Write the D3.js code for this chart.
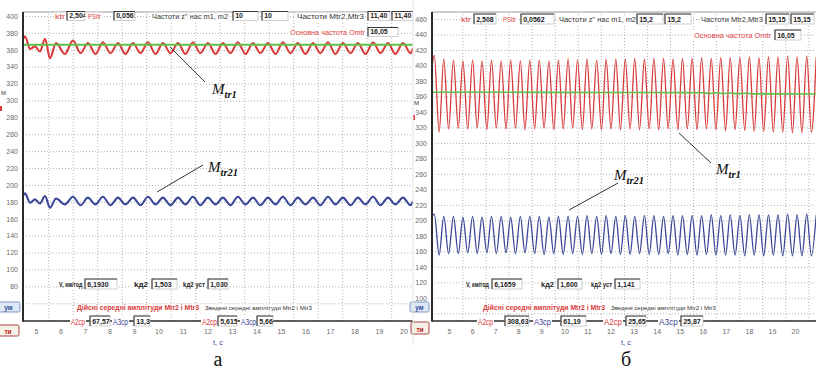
<!DOCTYPE html>
<html>
<head>
<meta charset="utf-8">
<script src="https://cdn.jsdelivr.net/npm/d3@7"></script>
<style>
body { margin: 0; background: #fff; }
svg { display: block; font-family: "Liberation Sans", Arial, sans-serif; }
</style>
</head>
<body>
<svg id="chart" width="816" height="371"></svg>
<script>
/* Two oscilloscope-like screens of Mtr1 / Mtr21, cases a and б */

var time_ticks = [5, 6, 7, 8, 9, 10, 11, 12, 13, 14, 15, 16, 17, 18, 19, 20];
var left_value_ticks = [80, 100, 120, 140, 160, 180, 200, 220, 240, 260, 280, 300, 320, 340, 360, 380, 400];
var left_grid_ticks = [60].concat(left_value_ticks);
var right_value_ticks = [100, 120, 140, 160, 180, 200, 220, 240, 260, 280, 300, 320, 340, 360, 380, 400, 420, 440, 460];
var right_grid_ticks = [80].concat(right_value_ticks);

// case a: times of peaks / troughs, s
var left_time = [4.47, 4.55, 4.76, 4.96, 5.16, 5.37, 5.57, 5.82, 6.18, 6.51,
	6.82, 7.12, 7.43, 7.73, 8.04, 8.35, 8.65, 8.96, 9.27, 9.57,
	9.88, 10.18, 10.49, 10.80, 11.10, 11.41, 11.71, 12.02, 12.33, 12.63,
	12.94, 13.24, 13.55, 13.86, 14.16, 14.47, 14.78, 15.08, 15.39, 15.69,
	16.00, 16.31, 16.61, 16.92, 17.22, 17.53, 17.84, 18.14, 18.45, 18.76,
	19.06, 19.37, 19.67, 19.98, 20.29, 20.39];
var left_mtr1 = [372, 376, 361, 364, 358, 373, 350, 368, 355, 371,
	356, 368, 355, 369, 356, 368, 355, 368, 356, 369,
	355, 368, 356, 368, 355, 369, 356, 368, 355, 368,
	356, 369, 355, 368, 356, 368, 355, 369, 356, 368,
	355, 368, 356, 369, 355, 368, 356, 368, 355, 369,
	356, 368, 355, 368, 356, 362];
var left_mtr21 = [187, 190, 179, 183, 178, 187, 173, 184, 177, 186,
	176, 185, 177, 186, 176, 185, 177, 185, 176, 186,
	177, 185, 176, 185, 177, 186, 176, 185, 177, 185,
	176, 186, 177, 185, 176, 185, 177, 186, 176, 185,
	177, 185, 176, 186, 177, 185, 176, 185, 177, 186,
	176, 185, 177, 185, 176, 181];
var left_green_time = [4.47, 20.39];
var left_green = [366, 366];

// case б
var right_time = [4.26, 4.36, 4.57, 4.77, 4.98, 5.19, 5.40, 5.60, 5.81, 6.02,
	6.22, 6.43, 6.64, 6.84, 7.05, 7.26, 7.47, 7.67, 7.88, 8.09,
	8.29, 8.50, 8.71, 8.91, 9.12, 9.33, 9.54, 9.74, 9.95, 10.16,
	10.36, 10.57, 10.78, 10.98, 11.19, 11.40, 11.61, 11.81, 12.02, 12.23,
	12.43, 12.64, 12.85, 13.05, 13.26, 13.47, 13.68, 13.88, 14.09, 14.30,
	14.50, 14.71, 14.92, 15.12, 15.33, 15.54, 15.75, 15.95, 16.16, 16.37,
	16.57, 16.78, 16.99, 17.19, 17.40, 17.61, 17.82, 18.02, 18.23, 18.44,
	18.64, 18.85, 19.06, 19.26, 19.47, 19.68, 19.89, 20.09, 20.30, 20.51,
	20.71, 20.92];
var right_mtr1 = [398, 413, 314, 408, 318, 407, 319, 406, 318, 407,
	319, 406, 317, 407, 319, 406, 318, 407, 319, 406,
	317, 407, 318, 407, 319, 406, 317, 407, 318, 408,
	319, 407, 317, 408, 318, 407, 317, 408, 318, 408,
	317, 408, 318, 409, 317, 408, 318, 409, 317, 409,
	318, 408, 317, 409, 318, 409, 317, 410, 318, 409,
	317, 410, 316, 410, 317, 410, 316, 411, 315, 410,
	315, 411, 314, 411, 314, 412, 313, 411, 313, 412,
	314, 411];
var right_mtr21 = [205, 208, 155, 205, 157, 205, 157, 204, 158, 205,
	157, 204, 158, 205, 157, 205, 158, 204, 157, 205,
	158, 205, 157, 205, 156, 204, 157, 205, 156, 205,
	157, 205, 156, 206, 157, 205, 156, 206, 157, 205,
	156, 206, 156, 205, 157, 206, 156, 206, 156, 205,
	157, 206, 155, 206, 156, 206, 155, 206, 156, 207,
	155, 206, 155, 207, 155, 206, 154, 207, 155, 207,
	154, 207, 155, 207, 154, 208, 154, 207, 154, 208,
	154, 207];
var right_green_time = [4.26, 9.0, 14.0, 16.0, 16.3, 16.6, 16.9, 17.2, 17.5, 17.8, 18.2, 19.0, 20.92];
var right_green = [365.5, 365.3, 365.0, 364.8, 363.8, 364.7, 363.6, 364.5, 363.4, 364.2, 363.3, 363.3, 363.2];

var left_params = ["2,504", "0,0561", "10", "10", "11,40", "11,40", "16,05"];
var right_params = ["2,508", "0,0562", "15,2", "15,2", "15,15", "15,15", "16,05"];
var left_bottom_params = ["6,1930", "1,503", "1,030"];
var right_bottom_params = ["6,1659", "1,600", "1,141"];
var left_amplitudes = ["67,570", "13,39", "5,615", "5,665"];
var right_amplitudes = ["308,63", "61,19", "25,65", "25,87"];

var red = "#d93a3a", blue = "#3b4796", green = "#5fbf4a", dark = "#2a2a2a";

var svg = d3.select("#chart");
var defs = svg.append("defs");
var clip_count = 0;

function value_box(g, x, y, w, h, txt) {
	var id = "box_clip_" + (clip_count++);
	defs.append("clipPath").attr("id", id)
		.append("rect").attr("x", x).attr("y", y).attr("width", w).attr("height", h);
	g.append("rect")
		.attr("x", x).attr("y", y).attr("width", w).attr("height", h)
		.attr("fill", "#fff").attr("stroke", "#c4c4c4").attr("stroke-width", 0.8);
	g.append("text")
		.attr("clip-path", "url(#" + id + ")")
		.attr("x", x + 2.2).attr("y", y + h - 2.4)
		.attr("font-size", 7).attr("font-weight", "bold").attr("fill", "#222")
		.text(txt);
	g.append("path")
		.attr("d", "M" + x + "," + (y + h) + "V" + y + "H" + (x + w))
		.attr("fill", "none").attr("stroke", "#3a3a3a").attr("stroke-width", 1.1);
}

function label(g, x, y, txt, color, size, width, weight) {
	var bg = g.append("rect").attr("fill", "#fff");
	var t = g.append("text")
		.attr("x", x).attr("y", y)
		.attr("font-size", size).attr("fill", color)
		.attr("font-weight", weight || "normal")
		.attr("textLength", width).attr("lengthAdjust", "spacingAndGlyphs")
		.text(txt);
	bg.attr("x", x - 1).attr("y", y - size * 0.85)
		.attr("width", width + 2).attr("height", size * 1.1);
	return t;
}

function button(g, x, y, w, h, txt, color, fill, border) {
	g.append("rect")
		.attr("x", x).attr("y", y).attr("width", w).attr("height", h).attr("rx", 1.5)
		.attr("fill", fill).attr("stroke", border).attr("stroke-width", 1);
	g.append("text")
		.attr("x", x + w / 2).attr("y", y + h - 2.5).attr("text-anchor", "middle")
		.attr("font-size", 6.5).attr("font-weight", "bold").attr("fill", color)
		.text(txt);
}

function annotate(g, x, y, sub, from, to) {
	g.append("line")
		.attr("x1", from[0]).attr("y1", from[1]).attr("x2", to[0]).attr("y2", to[1])
		.attr("stroke", "#333").attr("stroke-width", 1);
	var t = g.append("text")
		.attr("x", x).attr("y", y)
		.attr("font-family", "'Liberation Serif', 'Times New Roman', serif")
		.attr("font-style", "italic").attr("fill", "#111");
	t.append("tspan").attr("font-size", 15).text("M");
	t.append("tspan").attr("font-size", 10.5).attr("font-weight", "bold").attr("dy", 4).text(sub);
}

function draw_panel(p) {
	var g = svg.append("g");
	var x = d3.scaleLinear().domain(p.x_domain).range([p.axis_x, p.x1]);
	var y = d3.scaleLinear().domain(p.y_domain).range([p.bottom, p.y_top]);

	g.append("rect")
		.attr("x", p.x0).attr("y", 0).attr("width", p.x1 - p.x0).attr("height", 371)
		.attr("fill", "#fff");

	// dotted grid
	var grid_y = g.append("g")
		.attr("transform", "translate(" + p.axis_x + ",0)")
		.call(d3.axisLeft(y).tickValues(p.grid_ticks).tickSize(-(p.x1 - p.axis_x)).tickFormat(""));
	var grid_x = g.append("g")
		.attr("transform", "translate(0," + p.bottom + ")")
		.call(d3.axisBottom(x)
			.tickValues(time_ticks.map(function(t) { return t + p.grid_shift; }))
			.tickSize(-(p.bottom - p.top)).tickFormat(""));
	[grid_x, grid_y].forEach(function(a) {
		a.select(".domain").remove();
		a.selectAll("line")
			.attr("stroke", "#a9a9a9").attr("stroke-width", 0.9)
			.attr("stroke-dasharray", "1,2");
	});

	g.append("line")
		.attr("x1", p.axis_x).attr("x2", p.x1).attr("y1", p.top).attr("y2", p.top)
		.attr("stroke", "#9a9a9a").attr("stroke-width", 1);

	var clip_id = "plot_clip_" + p.name;
	defs.append("clipPath").attr("id", clip_id)
		.append("rect")
			.attr("x", p.axis_x).attr("y", p.top)
			.attr("width", p.x1 - p.axis_x).attr("height", p.bottom - p.top);

	var line = d3.line()
		.x(function(d) { return x(d[0]); })
		.y(function(d) { return y(d[1]); })
		.curve(d3.curveMonotoneX);

	var traces = [
		{ data: d3.zip(p.time, p.mtr1), color: red, width: p.line_width },
		{ data: d3.zip(p.time, p.mtr21), color: blue, width: p.line_width },
		{ data: d3.zip(p.green_time, p.green), color: green, width: p.green_width }
	];
	g.append("g")
		.attr("clip-path", "url(#" + clip_id + ")")
		.selectAll("path")
		.data(traces)
		.enter()
		.append("path")
			.attr("d", function(d) { return line(d.data); })
			.attr("fill", "none")
			.attr("stroke", function(d) { return d.color; })
			.attr("stroke-width", function(d) { return d.width; })
			.attr("stroke-linejoin", "round");

	// axes
	g.append("line")
		.attr("x1", p.axis_x).attr("x2", p.x1).attr("y1", p.bottom).attr("y2", p.bottom)
		.attr("stroke", dark).attr("stroke-width", 1.4);
	g.append("line")
		.attr("x1", p.axis_x).attr("x2", p.axis_x).attr("y1", p.top).attr("y2", p.bottom + 0.7)
		.attr("stroke", dark).attr("stroke-width", 2);

	var y_axis = g.append("g")
		.attr("transform", "translate(" + (p.axis_x - 4) + ",0)")
		.call(d3.axisLeft(y).tickValues(p.value_ticks).tickSize(0).tickPadding(1));
	var x_axis = g.append("g")
		.attr("transform", "translate(0," + (p.bottom + 8) + ")")
		.call(d3.axisBottom(x).tickValues(time_ticks).tickSize(0).tickPadding(0));
	[x_axis, y_axis].forEach(function(a) {
		a.select(".domain").remove();
		a.selectAll("text")
			.attr("font-size", 7).attr("fill", "#6a6a6a")
			.attr("font-family", "'Liberation Sans', Arial, sans-serif");
	});

	g.append("text")
		.attr("x", p.caption_x).attr("y", p.bottom + 24)
		.attr("text-anchor", "middle").attr("font-size", 7.5).attr("fill", "#3a4a8a")
		.text("t, c");
	g.append("text")
		.attr("x", p.caption_x).attr("y", 366)
		.attr("text-anchor", "middle").attr("font-size", 20)
		.attr("font-family", "'Liberation Serif', 'Times New Roman', serif")
		.attr("fill", "#111")
		.text(p.caption);
	return g;
}

var left_panel = {
	name: "left", caption: "а", caption_x: 218,
	x0: 0, x1: 413, axis_x: 23, top: 12, bottom: 321, y_top: 16,
	x_domain: [4.47, 20.39], y_domain: [39, 400], grid_shift: 0.5,
	value_ticks: left_value_ticks, grid_ticks: left_grid_ticks,
	time: left_time, mtr1: left_mtr1, mtr21: left_mtr21,
	green_time: left_green_time, green: left_green,
	line_width: 2.1, green_width: 2
};
var right_panel = {
	name: "right", caption: "б", caption_x: 626,
	x0: 413, x1: 816, axis_x: 432, top: 12, bottom: 321, y_top: 19,
	x_domain: [4.26, 20.91], y_domain: [70, 460], grid_shift: 0.58,
	value_ticks: right_value_ticks, grid_ticks: right_grid_ticks,
	time: right_time, mtr1: right_mtr1, mtr21: right_mtr21,
	green_time: right_green_time, green: right_green,
	line_width: 1.3, green_width: 1.6
};

var lg = draw_panel(left_panel);
var rg = draw_panel(right_panel);

// case a: parameter fields
label(lg, 55, 19, "ktr", red, 7.5, 10);
value_box(lg, 67, 11.5, 18, 9, left_params[0]);
label(lg, 88, 19, "PSItr", red, 7.5, 13);
value_box(lg, 114, 11.5, 21, 9, left_params[1]);
label(lg, 152, 19, "Частоти z'' нас m1, m2", "#333", 7.5, 76);
value_box(lg, 233, 11.5, 25, 9, left_params[2]);
value_box(lg, 262, 11.5, 26, 9, left_params[3]);
label(lg, 297, 19, "Частоти Mtr2,Mtr3", "#333", 7.5, 67);
value_box(lg, 368, 11.5, 22, 9, left_params[4]);
value_box(lg, 392, 11.5, 21, 9, left_params[5]);
label(lg, 290, 35, "Основна частота Omtr", red, 7.5, 75);
value_box(lg, 368, 27.5, 30, 9, left_params[6]);

label(lg, 59, 287, "V, км/год", "#222", 7, 23.5, "bold");
value_box(lg, 85, 279, 32, 10, left_bottom_params[0]);
label(lg, 134, 287, "kд2", "#222", 7, 14, "bold");
value_box(lg, 152, 279, 25, 10, left_bottom_params[1]);
label(lg, 183, 287, "kд2 уст", "#222", 7, 22, "bold");
value_box(lg, 208, 279, 20, 10, left_bottom_params[2]);
label(lg, 77, 310, "Дійсні середні  амплітуди Mtr2 і Mtr3", red, 6.5, 122, "bold");
label(lg, 205, 310, "Зведені середні амплітуди Mtr2 і Mtr3", "#333", 6, 107);
label(lg, 71, 324.5, "A2cp", red, 8.5, 14);
value_box(lg, 90, 316, 20, 10, left_amplitudes[0]);
label(lg, 113, 324.5, "A3cp", blue, 8.5, 15);
value_box(lg, 134, 316, 16, 10, left_amplitudes[1]);
label(lg, 202, 324.5, "A2cp", red, 8.5, 15);
value_box(lg, 218, 316, 19, 10, left_amplitudes[2]);
label(lg, 241, 324.5, "A3cp", blue, 8.5, 15);
value_box(lg, 257, 316, 16, 10, left_amplitudes[3]);

button(lg, -3, 302, 23, 10, "ум", "#2f4f9a", "#dde7f6", "#8097c0");
button(lg, -3, 325, 22, 11, "ти", "#c02020", "#f6f1e6", "#b04040");
lg.append("text").attr("x", 1).attr("y", 95).attr("font-size", 6).attr("fill", "#333").text("M");
lg.append("rect").attr("x", 0).attr("y", 106).attr("width", 2).attr("height", 5).attr("fill", red);

annotate(lg, 212, 94, "tr1", [170, 47], [205, 82]);
annotate(lg, 208, 172, "tr21", [157, 192], [203, 165]);

// case б: parameter fields
label(rg, 461, 22, "ktr", red, 7.5, 10);
value_box(rg, 474, 14, 22, 10, right_params[0]);
label(rg, 503, 22, "PSItr", red, 7.5, 13);
value_box(rg, 521, 14, 33, 10, right_params[1]);
label(rg, 559, 22, "Частоти z'' нас m1, m2", "#333", 7.5, 77);
value_box(rg, 637, 14, 26, 10, right_params[2]);
value_box(rg, 665, 14, 26, 10, right_params[3]);
label(rg, 701, 22, "Частоти Mtr2,Mtr3", "#333", 7.5, 62);
value_box(rg, 766, 14, 23, 10, right_params[4]);
value_box(rg, 791, 14, 23, 10, right_params[5]);
label(rg, 694, 38, "Основна частота Omtr", red, 7.5, 77);
value_box(rg, 775, 30, 26, 10, right_params[6]);

label(rg, 466, 287, "V, км/год", "#222", 7, 23, "bold");
value_box(rg, 492, 279, 30, 10, right_bottom_params[0]);
label(rg, 541, 287, "kд2", "#222", 7, 13, "bold");
value_box(rg, 558, 279, 24, 10, right_bottom_params[1]);
label(rg, 591, 287, "kд2 уст", "#222", 7, 21, "bold");
value_box(rg, 615, 279, 25, 10, right_bottom_params[2]);
label(rg, 483, 310, "Дійсні середні  амплітуди Mtr2 і Mtr3", red, 6.5, 122, "bold");
label(rg, 611, 310, "Зведені середні амплітуди Mtr2 і Mtr3", "#333", 6, 105);
label(rg, 478, 324.5, "A2cp", red, 8.5, 15);
value_box(rg, 505, 316, 24, 10, right_amplitudes[0]);
label(rg, 534, 324.5, "A3cp", blue, 8.5, 17);
value_box(rg, 561, 316, 25, 10, right_amplitudes[1]);
label(rg, 604, 324.5, "A2cp", red, 8.5, 18);
value_box(rg, 626, 316, 20, 10, right_amplitudes[2]);
label(rg, 659, 324.5, "A3cp", blue, 8.5, 19);
value_box(rg, 681, 316, 22, 10, right_amplitudes[3]);

button(rg, 410, 302, 19, 10, "ум", "#2f4f9a", "#dde7f6", "#8097c0");
button(rg, 411, 322, 18, 12, "ти", "#c02020", "#f6f1e6", "#b04040");
rg.append("text").attr("x", 414).attr("y", 105).attr("font-size", 6).attr("fill", "#333").text("M");
rg.append("rect").attr("x", 413).attr("y", 115).attr("width", 2).attr("height", 5).attr("fill", red);

annotate(rg, 716, 174, "tr1", [679, 133], [711, 163]);
annotate(rg, 614, 180, "tr21", [569, 210], [618, 183]);

svg.append("line")
	.attr("x1", 413).attr("x2", 413).attr("y1", 0).attr("y2", 345)
	.attr("stroke", "#e2e2e2").attr("stroke-width", 1);
</script>
</body>
</html>
